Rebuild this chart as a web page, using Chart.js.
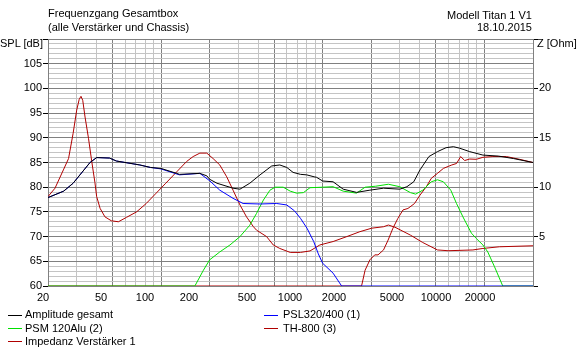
<!DOCTYPE html>
<html>
<head>
<title>Frequenzgang Gesamtbox</title>
<script src="https://cdn.jsdelivr.net/npm/chart.js@4.4.0/dist/chart.umd.min.js"></script>
<style>
  body { margin: 0; background: #fff; font-family: "Liberation Sans", Arial, sans-serif; font-size: 11px; color: #000; }
  #wrap { position: relative; width: 579px; height: 351px; }
  .t { position: absolute; white-space: nowrap; line-height: 13px; }
  .sw { position: absolute; width: 14px; height: 1px; }
</style>
</head>
<body>
<div id="wrap">
  <canvas id="chart" width="579" height="351"></canvas>
  <div class="t" style="left:48px;top:7px">Frequenzgang Gesamtbox</div>
  <div class="t" style="left:48px;top:21px">(alle Verstärker und Chassis)</div>
  <div class="t" style="right:47px;top:9px">Modell Titan 1 V1</div>
  <div class="t" style="right:47px;top:21px">18.10.2015</div>
  <div class="t" style="left:0px;top:37px">SPL [dB]</div>
  <div class="t" style="left:537px;top:37px">Z [Ohm]</div>

  <div class="sw" style="left:8px;top:315px;background:#000000"></div>
  <div class="t" style="left:25px;top:308px">Amplitude gesamt</div>
  <div class="sw" style="left:8px;top:328px;background:#00e000"></div>
  <div class="t" style="left:25px;top:322px">PSM 120Alu (2)</div>
  <div class="sw" style="left:8px;top:341px;background:#b00000"></div>
  <div class="t" style="left:25px;top:335px">Impedanz Verstärker 1</div>
  <div class="sw" style="left:264px;top:315px;background:#0000ff"></div>
  <div class="t" style="left:283px;top:308px">PSL320/400 (1)</div>
  <div class="sw" style="left:264px;top:328px;background:#b00000"></div>
  <div class="t" style="left:283px;top:322px">TH-800 (3)</div>
</div>

<script>
// values (Hz / dB, impedance in Ohm)
var ampFreq = [20, 25, 28.6, 36.4, 40, 48, 53, 74, 86, 100, 125, 130, 174, 192, 200, 222, 279, 308, 354, 410, 484, 543, 600, 656, 729, 796, 886, 917, 1000, 1160, 1340, 1620, 1960, 2380, 3000, 3320, 3660, 4000, 4540, 5130, 5800, 6440, 7030, 8120, 9800, 12200, 15150, 20000];
var ampSpl  = [77.9, 79.2, 80.8, 85.0, 86.0, 85.9, 85.3, 84.5, 84.0, 83.8, 82.8, 82.6, 82.8, 82.3, 81.6, 80.8, 79.8, 79.6, 80.8, 82.5, 84.3, 84.5, 84.0, 83.0, 82.6, 82.5, 82.1, 82.0, 81.25, 81.1, 79.6, 78.95, 79.4, 79.8, 79.6, 80.1, 81.1, 83.5, 86.2, 87.2, 88.0, 88.2, 87.9, 87.2, 86.5, 86.3, 85.8, 85.0];

var pslFreq = [20, 25, 28.6, 36.4, 40, 48, 53, 74, 86, 100, 130, 174, 200, 231, 279, 322, 410, 520, 600, 670, 729, 800, 880, 940, 1000, 1160, 1310, 20000];
var pslSpl  = [77.9, 79.2, 80.8, 85.0, 86.0, 85.9, 85.3, 84.5, 84.0, 83.7, 82.5, 82.8, 81.3, 79.4, 77.75, 76.7, 76.6, 76.7, 76.4, 75.2, 73.7, 71.7, 69.0, 66.5, 64.6, 62.6, 60, 60];

var psmFreq = [20, 162, 183, 200, 231, 267, 308, 354, 390, 430, 472, 508, 570, 630, 690, 760, 835, 1000, 1160, 1340, 1620, 1830, 2130, 2550, 3000, 3490, 3760, 4160, 4700, 5130, 5580, 6200, 6730, 7370, 8320, 8930, 9800, 10500, 11560, 13000, 20000];
var psmSpl  = [60, 60, 63.2, 65.3, 66.9, 68.3, 70.0, 72.3, 74.7, 77.4, 79.4, 80.0, 80.0, 79.2, 78.8, 78.9, 79.9, 80.0, 80.1, 79.2, 78.8, 80.0, 80.2, 80.6, 80.1, 78.9, 78.6, 79.4, 81.1, 81.5, 81.1, 79.4, 76.7, 74.0, 70.7, 69.6, 68.3, 66.9, 63.9, 60, 60];

var thFreq = [20, 1740, 1830, 1960, 2100, 2200, 2380, 2540, 2720, 2920, 3140, 3370, 3700, 4000, 4380, 4700, 5130, 5580, 5970, 6290, 6730, 7140, 7550, 8120, 8930, 9800, 11300, 13700, 16500, 20000];
var thSpl  = [60, 60, 63.2, 65.3, 66.3, 66.3, 67.3, 69.3, 71.7, 73.7, 75.4, 75.7, 76.7, 78.4, 80.1, 81.8, 82.8, 83.8, 84.2, 84.5, 84.8, 86.2, 85.4, 85.7, 85.65, 86.05, 86.2, 86.2, 85.65, 85.0];

var impFreq = [20, 22.1, 24.9, 26.8, 28.6, 30.1, 31.2, 32.0, 32.8, 33.9, 35.6, 37.3, 39.0, 40.0, 42, 45, 49.3, 54.5, 61.2, 70.6, 81, 93.4, 107, 125, 144, 158, 174, 192, 210, 231, 255, 279, 308, 338, 373, 390, 450, 495, 543, 630, 729, 835, 960, 1160, 1410, 1700, 2010, 2380, 2550, 2800, 3490, 4160, 5130, 5970, 8500, 9800, 12400, 20000];
var impOhm  = [9.05, 9.9, 11.75, 12.9, 15.45, 17.8, 18.9, 19.2, 18.8, 17.1, 14.95, 12.6, 10.5, 9.05, 7.86, 7.0, 6.6, 6.5, 6.95, 7.5, 8.35, 9.4, 10.4, 11.55, 12.6, 13.1, 13.45, 13.45, 12.9, 12.25, 11.05, 9.7, 8.2, 7.0, 6.0, 5.65, 5.0, 4.15, 3.8, 3.4, 3.4, 3.55, 4.15, 4.5, 5.0, 5.5, 5.85, 6.0, 6.17, 5.95, 5.15, 4.4, 3.65, 3.57, 3.65, 3.8, 3.97, 4.07];

var xLabels = [20, 50, 100, 200, 500, 1000, 2000, 5000, 10000, 20000];

function pts(f, v) {
    return f.map(function (x, i) { return {x: x, y: v[i]}; });
}

function line(label, color, f, v, axis, order) {
    return {label: label, data: pts(f, v), borderColor: color, borderWidth: 1,
            pointRadius: 0, tension: 0, fill: false, yAxisID: axis, order: order};
}

// grid every 1-2-3..9 per decade
var xGrid = [];
for (var d = 10; d <= 10000; d *= 10)
    for (var k = 1; k < 10; k++)
        if (k * d >= 20 && k * d <= 20000) xGrid.push(k * d);

var yGrid = [];
for (var s = 60; s <= 110; s++) yGrid.push(s);

// the program puts its frequency labels at 90% of the grid position
var xLabelPlugin = {
    id: 'xLabels',
    afterDraw: function (chart) {
        var c = chart.ctx, sx = chart.scales.x;
        c.save();
        c.font = '11px "Liberation Sans", Arial';
        c.fillStyle = '#000';
        c.textAlign = 'center';
        c.textBaseline = 'middle';
        xLabels.forEach(function (v) {
            c.fillText(String(v), Math.round(sx.getPixelForValue(v) * 0.9), 298);
        });
        c.restore();
    }
};

Chart.defaults.font.family = '"Liberation Sans", Arial, sans-serif';
Chart.defaults.font.size = 11;
Chart.defaults.color = '#000';

new Chart(document.getElementById('chart'), {
    type: 'line',
    data: {
        datasets: [
            line('Amplitude gesamt', '#000000', ampFreq, ampSpl, 'y', 0),
            line('PSL320/400 (1)', '#0000ff', pslFreq, pslSpl, 'y', 1),
            line('PSM 120Alu (2)', '#00e000', psmFreq, psmSpl, 'y', 2),
            line('TH-800 (3)', '#b00000', thFreq, thSpl, 'y', 3),
            line('Impedanz Verstärker 1', '#b00000', impFreq, impOhm, 'y2', 4)
        ]
    },
    options: {
        responsive: false,
        animation: false,
        devicePixelRatio: 1,
        layout: {padding: {top: 39, left: 0, right: 0, bottom: 0}},
        plugins: {legend: {display: false}, tooltip: {enabled: false}},
        scales: {
            x: {
                type: 'logarithmic', min: 20, max: 20000,
                afterBuildTicks: function (sc) { sc.ticks = xGrid.map(function (v) { return {value: v}; }); },
                afterFit: function (sc) { sc.height = 65; },
                ticks: {display: false, autoSkip: false},
                grid: {
                    drawTicks: false,
                    color: function (ctx) {
                        return ctx.tick && xLabels.indexOf(ctx.tick.value) >= 0 ? '#808080' : '#c4c4c4';
                    }
                },
                border: {color: '#808080'}
            },
            y: {
                position: 'left', min: 60, max: 110,
                afterBuildTicks: function (sc) { sc.ticks = yGrid.map(function (v) { return {value: v}; }); },
                afterFit: function (sc) { sc.width = 48; },
                ticks: {
                    autoSkip: false, padding: 1,
                    callback: function (v) { return (v % 5 === 0 && v < 110) ? String(v) : ''; }
                },
                grid: {
                    tickLength: 5,
                    color: function (ctx) { return ctx.tick && ctx.tick.value % 5 === 0 ? '#808080' : '#c4c4c4'; },
                    tickColor: function (ctx) { return ctx.tick && ctx.tick.value % 5 === 0 ? '#000' : 'rgba(0,0,0,0)'; }
                },
                border: {color: '#808080'}
            },
            y2: {
                position: 'right', min: 0, max: 25,
                afterBuildTicks: function (sc) { sc.ticks = [0, 5, 10, 15, 20, 25].map(function (v) { return {value: v}; }); },
                afterFit: function (sc) { sc.width = 46; },
                ticks: {
                    autoSkip: false, padding: 1,
                    callback: function (v) { return (v > 0 && v < 25) ? String(v) : ''; }
                },
                grid: {drawOnChartArea: false, tickLength: 5, tickColor: '#000'},
                border: {color: '#808080'}
            }
        }
    },
    plugins: [xLabelPlugin]
});
</script>
</body>
</html>
